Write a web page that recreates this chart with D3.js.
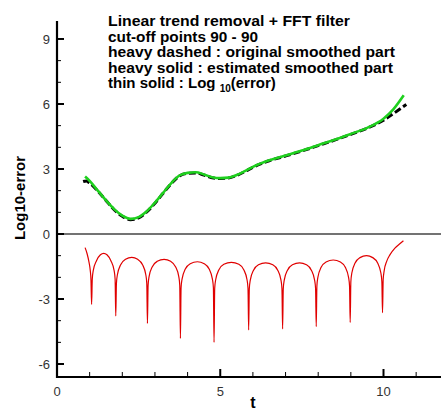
<!DOCTYPE html>
<html>
<head>
<meta charset="utf-8">
<script src="https://cdn.jsdelivr.net/npm/d3@7"></script>
<style>
  body { margin: 0; background: #fff; }
  svg { display: block; font-family: Arial, "Liberation Sans", sans-serif; }
</style>
</head>
<body>
<svg id="chart" width="441" height="410"></svg>
<script>
// heavy dashed: original smoothed part
const origT = [0.80, 0.90, 1.00, 1.25, 1.50, 1.75, 2.00, 2.25, 2.50, 2.75, 3.00, 3.25, 3.50, 3.75, 4.00, 4.25, 4.50, 4.75, 5.00, 5.25, 5.50, 5.75, 6.00, 6.50, 7.00, 7.50, 8.00, 8.50, 9.00, 9.50, 10.00, 10.30, 10.70];
const origY = [2.42, 2.45, 2.35, 1.98, 1.55, 1.12, 0.82, 0.66, 0.74, 1.02, 1.42, 1.88, 2.33, 2.68, 2.80, 2.82, 2.72, 2.60, 2.56, 2.58, 2.70, 2.88, 3.08, 3.38, 3.60, 3.83, 4.08, 4.33, 4.60, 4.88, 5.25, 5.55, 5.98];

// heavy solid: estimated smoothed part
const estT = [0.86, 1.00, 1.25, 1.50, 1.75, 2.00, 2.25, 2.50, 2.75, 3.00, 3.25, 3.50, 3.75, 4.00, 4.25, 4.50, 4.75, 5.00, 5.25, 5.50, 5.75, 6.00, 6.50, 7.00, 7.50, 8.00, 8.50, 9.00, 9.50, 10.00, 10.30, 10.62];
const estY = [2.65, 2.45, 2.00, 1.55, 1.15, 0.85, 0.70, 0.78, 1.05, 1.45, 1.90, 2.35, 2.70, 2.82, 2.85, 2.75, 2.62, 2.58, 2.60, 2.72, 2.90, 3.10, 3.40, 3.62, 3.85, 4.10, 4.35, 4.62, 4.90, 5.32, 5.75, 6.40];

// thin solid: Log10(error)
const errT = [0.86, 0.92, 0.98, 1.02, 1.04, 1.06,
  1.08, 1.11, 1.21, 1.33, 1.43, 1.53, 1.65, 1.75, 1.78, 1.80,
  1.82, 1.85, 1.95, 2.10, 2.29, 2.47, 2.62, 2.72, 2.75, 2.77,
  2.79, 2.82, 2.92, 3.07, 3.28, 3.48, 3.63, 3.73, 3.76, 3.78,
  3.80, 3.83, 3.93, 4.08, 4.30, 4.51, 4.66, 4.76, 4.79, 4.81,
  4.83, 4.86, 4.96, 5.11, 5.34, 5.57, 5.72, 5.82, 5.85, 5.87,
  5.89, 5.92, 6.02, 6.17, 6.39, 6.61, 6.76, 6.86, 6.89, 6.91,
  6.93, 6.96, 7.06, 7.21, 7.43, 7.64, 7.79, 7.89, 7.92, 7.94,
  7.96, 7.99, 8.09, 8.24, 8.46, 8.68, 8.83, 8.93, 8.96, 8.98,
  9.00, 9.03, 9.13, 9.28, 9.48, 9.67, 9.82, 9.92, 9.95, 9.97,
  9.99, 10.02, 10.10, 10.20, 10.35, 10.50, 10.61];
const errY = [-0.63, -0.90, -1.30, -1.70, -2.10, -3.25,
  -2.09, -1.69, -1.23, -0.96, -0.89, -0.96, -1.23, -1.69, -2.09, -3.78,
  -2.28, -1.88, -1.42, -1.17, -1.08, -1.17, -1.42, -1.88, -2.28, -4.12,
  -2.37, -1.97, -1.51, -1.26, -1.17, -1.26, -1.51, -1.97, -2.37, -4.82,
  -2.48, -2.08, -1.62, -1.37, -1.28, -1.37, -1.62, -2.08, -2.48, -5.00,
  -2.51, -2.11, -1.65, -1.40, -1.31, -1.40, -1.65, -2.11, -2.51, -4.43,
  -2.53, -2.13, -1.67, -1.42, -1.33, -1.42, -1.67, -2.13, -2.53, -4.38,
  -2.53, -2.13, -1.67, -1.42, -1.33, -1.42, -1.67, -2.13, -2.53, -4.27,
  -2.40, -2.00, -1.54, -1.29, -1.20, -1.29, -1.54, -2.00, -2.40, -4.08,
  -2.20, -1.80, -1.34, -1.09, -1.00, -1.09, -1.34, -1.80, -2.20, -3.63,
  -2.10, -1.70, -1.25, -0.95, -0.65, -0.45, -0.31];

const xMajor = [0, 5, 10];
const xMinor = [1, 2, 3, 4, 6, 7, 8, 9, 11];
const yMajor = [-6, -3, 0, 3, 6, 9];
const yMinor = [-5, -4, -2, -1, 1, 2, 4, 5, 7, 8];

const titleLines = [
  "Linear trend removal + FFT filter",
  "cut-off points 90 - 90",
  "heavy dashed : original smoothed part",
  "heavy solid : estimated smoothed part"
];

const svg = d3.select("#chart");
const plotLeft = 57, plotBottom = 377, plotTop = 21;

const x = d3.scaleLinear().domain([0, 12]).range([plotLeft, plotLeft + 12 * 32.65]);
const y = d3.scaleLinear().domain([0, 9]).range([234, 234 - 9 * 21.67]);

// zero line
svg.append("line")
  .attr("x1", x(0)).attr("x2", 441)
  .attr("y1", y(0)).attr("y2", y(0))
  .attr("stroke", "#444").attr("stroke-width", 1.5);

// axes
const yAxis = svg.append("g").attr("transform", "translate(" + plotLeft + ",0)");
yAxis.append("line").attr("x1", 0).attr("x2", 0).attr("y1", plotTop).attr("y2", plotBottom + 1)
  .attr("stroke", "#000").attr("stroke-width", 2.2);
yAxis.selectAll(".maj").data(yMajor).enter().append("line")
  .attr("x1", 0).attr("x2", 7).attr("y1", d => y(d)).attr("y2", d => y(d))
  .attr("stroke", "#000").attr("stroke-width", 2);
yAxis.selectAll(".min").data(yMinor).enter().append("line")
  .attr("x1", 0).attr("x2", 4).attr("y1", d => y(d)).attr("y2", d => y(d))
  .attr("stroke", "#000").attr("stroke-width", 1);
yAxis.selectAll("text").data(yMajor).enter().append("text")
  .attr("x", -7).attr("y", d => y(d) + 5)
  .attr("text-anchor", "end").attr("font-size", 13).attr("fill", "#333")
  .text(d => d);

const xAxis = svg.append("g").attr("transform", "translate(0," + plotBottom + ")");
xAxis.append("line").attr("x1", plotLeft - 1).attr("x2", 441).attr("y1", 0).attr("y2", 0)
  .attr("stroke", "#000").attr("stroke-width", 2.2);
xAxis.selectAll(".maj").data(xMajor).enter().append("line")
  .attr("x1", d => x(d)).attr("x2", d => x(d)).attr("y1", 0).attr("y2", -8)
  .attr("stroke", "#000").attr("stroke-width", 2);
xAxis.selectAll(".min").data(xMinor).enter().append("line")
  .attr("x1", d => x(d)).attr("x2", d => x(d)).attr("y1", 0).attr("y2", -5)
  .attr("stroke", "#000").attr("stroke-width", 1);
xAxis.selectAll("text").data(xMajor).enter().append("text")
  .attr("x", d => x(d)).attr("y", 19)
  .attr("text-anchor", "middle").attr("font-size", 13).attr("fill", "#333")
  .text(d => d);

// axis titles
svg.append("text").attr("x", 253).attr("y", 408)
  .attr("text-anchor", "middle").attr("font-size", 16).attr("font-weight", "bold")
  .text("t");
svg.append("text").attr("transform", "translate(25,198) rotate(-90)")
  .attr("text-anchor", "middle").attr("font-size", 15).attr("font-weight", "bold")
  .text("Log10-error");

// curves
const line = d3.line().x(d => x(d[0])).y(d => y(d[1])).curve(d3.curveMonotoneX);

svg.append("path").datum(d3.zip(errT, errY))
  .attr("d", line).attr("fill", "none")
  .attr("stroke", "#e00000").attr("stroke-width", 1.2);

svg.append("path").datum(d3.zip(origT, origY))
  .attr("d", line).attr("fill", "none")
  .attr("stroke", "#000").attr("stroke-width", 3)
  .attr("stroke-dasharray", "7,3");

svg.append("path").datum(d3.zip(estT, estY))
  .attr("d", line).attr("fill", "none")
  .attr("stroke", "#1ed01e").attr("stroke-width", 2.6);

// title block
const tb = svg.append("g").attr("font-size", 15).attr("font-weight", "bold");
tb.selectAll("text.l").data(titleLines).enter().append("text")
  .attr("x", 108).attr("y", (d, i) => 26 + i * 15.5)
  .attr("textLength", (d, i) => [242, 150, 287, 285][i])
  .attr("lengthAdjust", "spacingAndGlyphs")
  .text(d => d);
const last = tb.append("text").attr("x", 108).attr("y", 26 + 4 * 15.5);
last.append("tspan").text("thin solid : Log ");
last.append("tspan").attr("font-size", 10).attr("dy", 4).text("10");
last.append("tspan").attr("dy", -4).text("(error)");
</script>
</body>
</html>
